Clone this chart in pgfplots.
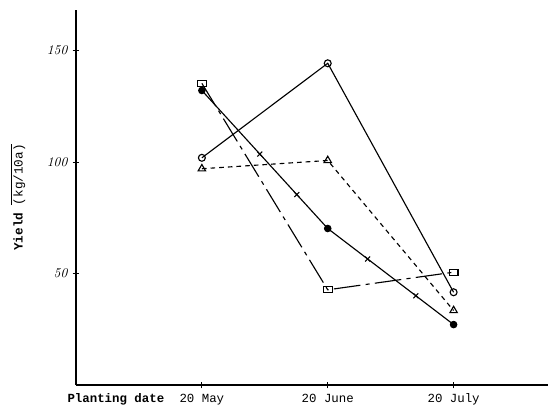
\documentclass[border=0pt]{standalone}
\usepackage{fontspec}
\setmonofont{Liberation Mono}
\usepackage{pgfplots}
\pgfplotsset{compat=1.18}
\begin{document}
\begin{tikzpicture}
\useasboundingbox (-57pt,-21.75pt) rectangle (357pt,288.75pt);
\begin{axis}[
  at={(0,0)}, anchor=south west,
  scale only axis, width=354pt, height=281.25pt,
  xmin=0, xmax=3.75, ymin=0, ymax=168.2,
  clip=false,
  axis lines=left,
  axis line style={-, line width=0.9pt},
  xtick={1,2,3}, xticklabels={20 May,20 June,20 July},
  ytick={50,100,150}, yticklabels={\textit{50},\textit{100},\textit{150}},
  tick align=center, major tick length=5pt,
  tick style={black, line width=0.8pt},
  xticklabel style={font=\fontsize{9.3}{11}\ttfamily, text height=7pt, text depth=2pt},
  yticklabel style={font=\fontsize{10}{12}\selectfont},
  extra x ticks={0.317},
  extra x tick labels={\textbf{Planting date}},
  extra x tick style={tick style={draw=none}},
  ylabel={\textbf{Yield} $\overline{\mbox{(kg/10a)}}$},
  ylabel style={font=\fontsize{9.5}{11}\ttfamily, at={(axis description cs:-0.123,0.5)}, anchor=center},
]
\addplot[black, line width=0.85pt, mark=o, mark size=2.6pt, mark options={solid, fill=white}]
  coordinates {(1,101.9) (2,144.3) (3,41.6)};
\addplot[black, line width=0.85pt, dash pattern=on 3.5pt off 3pt, mark=triangle, mark size=3.2pt, mark options={solid, fill=white}]
  coordinates {(1,97.0) (2,100.7) (3,33.4)};
\addplot[black, line width=0.85pt, dash pattern=on 20pt off 4pt on 3pt off 4pt, mark=square, mark size=2.6pt, mark options={solid, fill=white, xscale=1.25, yscale=0.9}]
  coordinates {(1,135.3) (2,42.7) (3,50.6)};
\addplot[black, line width=0.85pt, mark=*, mark size=2.4pt, mark options={solid}]
  coordinates {(1,132.1) (2,70.2) (3,27.1)};
\addplot[black, only marks, mark=x, mark size=2.6pt, mark options={line width=0.8pt}]
  coordinates {(1.46,103.6) (1.754,85.4) (2.317,56.5) (2.70,40.0)};
\end{axis}
\end{tikzpicture}
\end{document}
